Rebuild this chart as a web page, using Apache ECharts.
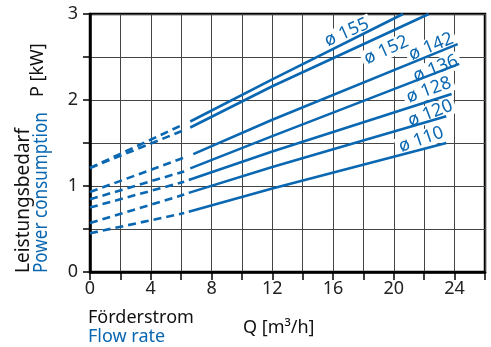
<!DOCTYPE html>
<html>
<head>
<meta charset="utf-8">
<script src="https://cdn.jsdelivr.net/npm/echarts@6/dist/echarts.min.js"></script>
<style>
html,body{margin:0;padding:0;background:#fff;}
#chart{width:491px;height:347px;}
</style>
</head>
<body>
<div id="chart"></div>
<script>
// Impeller diameters
const diameters = ['155','152','142','136','128','120','110'];
// Dashed (extrapolated) parts: [Q, P]
const dashed155 = [[0,1.21],[6.2,1.72]];
const dashed152 = [[0,1.21],[6.2,1.65]];
const dashed142 = [[0,0.93],[6.2,1.33]];
const dashed136 = [[0,0.845],[6.2,1.17]];
const dashed128 = [[0,0.75],[6.2,1.05]];
const dashed120 = [[0,0.57],[6.2,0.90]];
const dashed110 = [[0,0.45],[6.2,0.685]];
// Solid parts: [Q, P]
const solid155 = [[6.6,1.75],[12,2.24],[20.6,3.0]];
const solid152 = [[6.6,1.68],[12,2.16],[22.3,3.0]];
const solid142 = [[6.8,1.37],[12,1.77],[24.2,2.65]];
const solid136 = [[6.6,1.205],[12,1.58],[24.3,2.42]];
const solid128 = [[6.5,1.07],[12,1.40],[23.8,2.07]];
const solid120 = [[6.5,0.92],[12,1.22],[23.45,1.81]];
const solid110 = [[6.5,0.70],[12,0.97],[23.45,1.50]];
// Label anchor (data coords) and angle
const labelPos = [[16.9,2.785],[19.5,2.58],[22.45,2.62],[22.75,2.365],[22.3,2.115],[22.4,1.845],[21.8,1.54]];
const labelAngle = [24,24,22,21,20,21,19];
// Axis ticks
const xTicks = [0,4,8,12,16,20,24];
const yTicks = [0,1,2,3];

const BLUE = '#0a67b1';
const FONT = 'Noto Sans';
const dashedSets = [dashed155,dashed152,dashed142,dashed136,dashed128,dashed120,dashed110];
const solidSets = [solid155,solid152,solid142,solid136,solid128,solid120,solid110];

const series = [];
diameters.forEach((d,i)=>{
  series.push({type:'line', name:'d'+d+'dash', data:dashedSets[i], symbol:'none', silent:true,
    lineStyle:{color:BLUE,width:2.6,type:[8,5]}, z:3});
  series.push({type:'line', name:'d'+d, data:solidSets[i], symbol:'none', silent:true,
    lineStyle:{color:BLUE,width:2.6}, z:3});
});

const chart = echarts.init(document.getElementById('chart'), null, {renderer:'canvas'});
chart.setOption({
  animation:false,
  backgroundColor:'#fff',
  grid:{left:90,right:6,top:14,bottom:75,show:true,borderColor:'#000',borderWidth:2.5,backgroundColor:'transparent'},
  xAxis:{type:'value',min:0,max:26,interval:2,
    axisLine:{lineStyle:{color:'#000',width:2.5}},
    axisTick:{show:true,length:8,lineStyle:{color:'#000',width:1.5}},
    splitLine:{show:true,lineStyle:{color:'#444',width:1}},
    axisLabel:{fontFamily:FONT,fontSize:18,color:'#222',margin:8,
      formatter:v=>xTicks.indexOf(v)>=0?String(v):''}
  },
  yAxis:{type:'value',min:0,max:3,interval:0.5,
    axisLine:{show:true,lineStyle:{color:'#000',width:2.5}},
    axisTick:{show:true,length:7,lineStyle:{color:'#000',width:1.5}},
    splitLine:{show:true,lineStyle:{color:'#444',width:1}},
    axisLabel:{fontFamily:FONT,fontSize:18,color:'#222',margin:12,
      formatter:v=>yTicks.indexOf(v)>=0?String(v):''}
  },
  series:series
});

const graphics = [];
diameters.forEach((d,i)=>{
  const p = chart.convertToPixel({gridIndex:0}, labelPos[i]);
  graphics.push({type:'text', x:p[0], y:p[1], rotation:labelAngle[i]*Math.PI/180, z:1,
    style:{text:'ø '+d, fill:BLUE, font:'18px "'+FONT+'"', align:'center', verticalAlign:'middle',
      backgroundColor:'#fff', padding:[0,3]}});
});
// Axis titles
graphics.push({type:'text', x:33, y:273, rotation:Math.PI/2, z:10,
  style:{text:'Leistungsbedarf', fill:'#111', font:'19px "'+FONT+'"', align:'left', verticalAlign:'bottom'}});
graphics.push({type:'text', x:32, y:273, rotation:Math.PI/2, scaleX:0.9, z:10,
  style:{text:'Power consumption', fill:BLUE, font:'19px "'+FONT+'"', align:'left', verticalAlign:'top'}});
graphics.push({type:'text', x:47, y:97, rotation:Math.PI/2, z:10,
  style:{text:'P [kW]', fill:'#111', font:'18px "'+FONT+'"', align:'left', verticalAlign:'bottom'}});
graphics.push({type:'text', x:88, y:318, z:10,
  style:{text:'Förderstrom', fill:'#111', font:'18px "'+FONT+'"', align:'left', verticalAlign:'middle'}});
graphics.push({type:'text', x:88, y:337, z:10,
  style:{text:'Flow rate', fill:BLUE, font:'18px "'+FONT+'"', align:'left', verticalAlign:'middle'}});
graphics.push({type:'text', x:243, y:328, z:10,
  style:{text:'Q [m³/h]', fill:'#111', font:'18px "'+FONT+'"', align:'left', verticalAlign:'middle'}});
chart.setOption({graphic:graphics});
</script>
</body>
</html>
